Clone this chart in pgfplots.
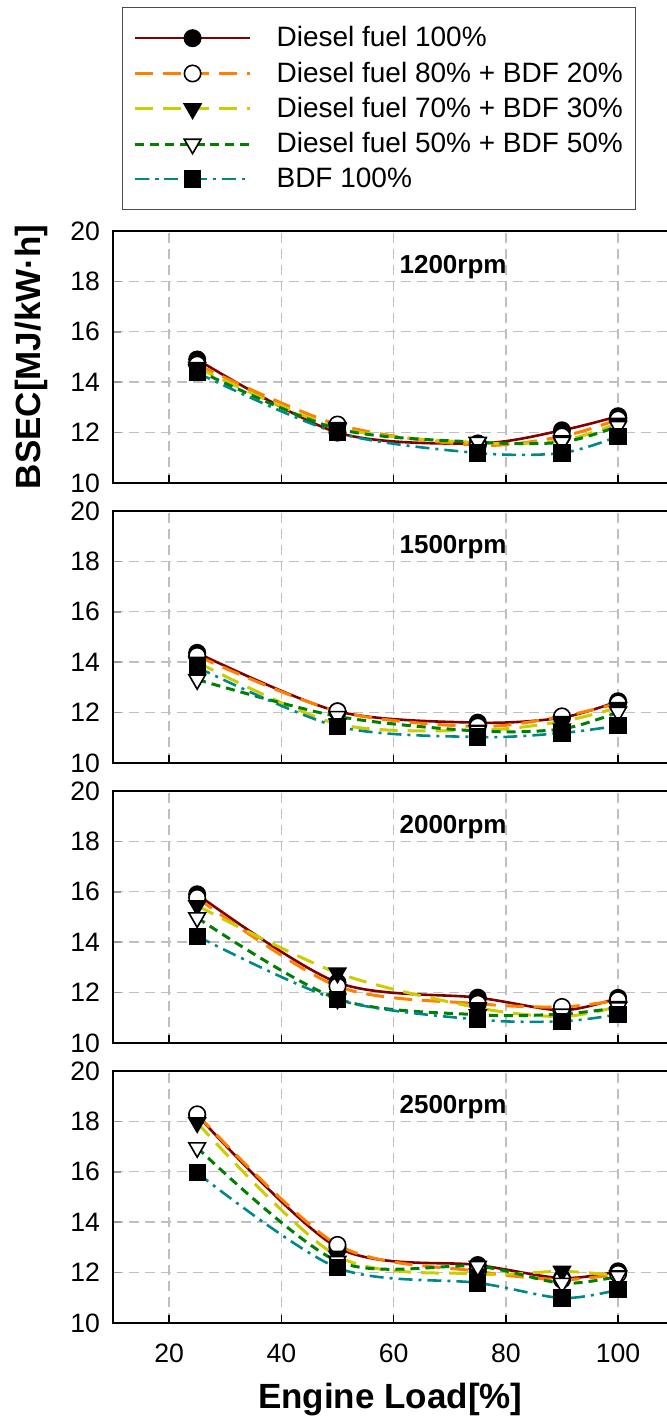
\documentclass[border=0pt]{standalone}
\usepackage{pgfplots}
\usepackage{pgfplotstable}
\pgfplotsset{compat=1.18}
\usepackage{fontspec}
\setmainfont{Liberation Sans}
\definecolor{cD}{RGB}{128,0,0}
\definecolor{cBa}{RGB}{255,128,0}
\definecolor{cBb}{RGB}{204,204,0}
\definecolor{cBc}{RGB}{0,128,0}
\definecolor{cBd}{RGB}{0,136,136}

\pgfplotstableread{
x D Ba Bb Bc Bd
25 14.90 14.70 14.58 14.48 14.37
50 12.00 12.32 12.20 12.15 11.99
75 11.57 11.50 11.60 11.62 11.19
90 12.09 11.85 11.68 11.62 11.19
100 12.65 12.52 12.37 12.25 11.85
}\tA
\pgfplotstableread{
x D Ba Bb Bc Bd
25 14.37 14.25 14.00 13.31 13.80
50 12.05 12.05 11.55 11.85 11.45
75 11.60 11.45 11.30 11.27 11.03
90 11.80 11.85 11.65 11.35 11.19
100 12.45 12.37 12.20 12.02 11.48
}\tB
\pgfplotstableread{
x D Ba Bb Bc Bd
25 15.90 15.76 15.45 14.97 14.24
50 12.40 12.25 12.78 11.75 11.72
75 11.80 11.56 11.40 11.12 10.93
90 11.30 11.43 11.05 11.15 10.86
100 11.79 11.70 11.45 11.40 11.13
}\tC
\pgfplotstableread{
x D Ba Bb Bc Bd
25 18.25 18.28 17.95 16.96 15.96
50 13.00 13.10 12.65 12.45 12.19
75 12.30 12.05 11.95 12.25 11.59
90 11.78 11.72 12.05 11.58 10.99
100 12.05 11.95 11.88 11.85 11.32
}\tD

\pgfplotsset{
 panel/.style={
  scale only axis, width=280.6pt, height=126pt,
  xmin=10, xmax=110, ymin=10, ymax=20,
  xtick={20,40,60,80,100}, ytick={10,12,...,20},
  xtick pos=bottom, ytick pos=left,
  grid=major,
  major grid style={draw=black!25, line width=0.7pt, dash pattern=on 5pt off 3pt},
  axis line style={line width=1.2pt},
  tick align=inside, major tick length=4pt,
  xtick style={draw=black, line width=0.8pt},
  ytick style={draw=black!40, line width=0.8pt},
  /pgf/number format/assume math mode=true,
  tick label style={font=\fontsize{13.3}{15}\selectfont},
  yticklabel style={xshift=-3pt},
  xticklabel style={anchor=center, yshift=-15pt},
  label style={font=\bfseries\fontsize{17.5}{20}\selectfont},
  anchor=south west,
  legend image code/.code={\draw[mark repeat=2,mark phase=2,#1] plot coordinates {(0pt,0pt) (28.75pt,0pt) (57.5pt,0pt)};},
 },
 sD/.style={cD, line width=1.3pt, smooth, mark=*, mark size=4.1pt, mark options={solid, fill=black, draw=black, line width=0.8pt}},
 sBa/.style={cBa, line width=1.5pt, smooth, dash pattern=on 9pt off 5pt, mark=*, mark size=4.1pt, mark options={solid, fill=white, draw=black, line width=0.8pt}},
 sBb/.style={cBb, line width=1.5pt, smooth, dash pattern=on 9pt off 5pt, mark=triangle*, mark size=4.8pt, mark options={solid, rotate=180, fill=black, draw=black, line width=0.8pt}},
 sBc/.style={cBc, line width=1.5pt, smooth, dash pattern=on 4.5pt off 3pt, mark=triangle*, mark size=4.8pt, mark options={solid, rotate=180, fill=white, draw=black, line width=0.8pt}},
 sBd/.style={cBd, line width=1.3pt, smooth, dash pattern=on 7pt off 3pt on 1.5pt off 3pt, mark=square*, mark size=3.9pt, mark options={solid, fill=black, draw=black, line width=0.8pt}},
}
\newcommand{\panelplots}[1]{%
  \addplot[sD] table[x=x,y=D]{#1};
  \addplot[sBa] table[x=x,y=Ba]{#1};
  \addplot[sBb] table[x=x,y=Bb]{#1};
  \addplot[sBc] table[x=x,y=Bc]{#1};
  \addplot[sBd] table[x=x,y=Bd]{#1};
}
\newcommand{\ptitle}[1]{\node[font=\bfseries\fontsize{13}{15}\selectfont] at (rel axis cs:0.606,0.857) {#1};}

\begin{document}
\begin{tikzpicture}
\begin{axis}[panel, at={(56.5pt,472pt)}, xticklabels={},
  ylabel={BSEC[MJ/kW·h]},
  ylabel style={at={(axis description cs:-0.145,0.5)}, anchor=center},
  legend cell align=left,
  legend style={at={(0.016,1.889)}, anchor=north west, draw=black!70, line width=0.6pt, fill=white,
    inner xsep=5.5pt, inner ysep=8.5pt, row sep=4pt,
    font=\fontsize{14}{16}\selectfont, nodes={inner sep=1pt},
    /tikz/every odd column/.append style={column sep=11.5pt}},
]
\panelplots{\tA}
\legend{Diesel fuel 100\%, Diesel fuel 80\% + BDF 20\%\hspace{7pt}, Diesel fuel 70\% + BDF 30\%, Diesel fuel 50\% + BDF 50\%, BDF 100\%}
\ptitle{1200rpm}
\end{axis}
\begin{axis}[panel, at={(56.5pt,332pt)}, xticklabels={}]
\panelplots{\tB}
\ptitle{1500rpm}
\end{axis}
\begin{axis}[panel, at={(56.5pt,192pt)}, xticklabels={}]
\panelplots{\tC}
\ptitle{2000rpm}
\end{axis}
\begin{axis}[panel, at={(56.5pt,52pt)},
  xlabel={Engine Load[\%]},
  xlabel style={at={(axis description cs:0.494,-0.3056)}, anchor=center}]
\panelplots{\tD}
\ptitle{2500rpm}
\end{axis}
\pgfresetboundingbox
\useasboundingbox (0,0) rectangle (333.5pt,713.5pt);
\end{tikzpicture}
\end{document}
